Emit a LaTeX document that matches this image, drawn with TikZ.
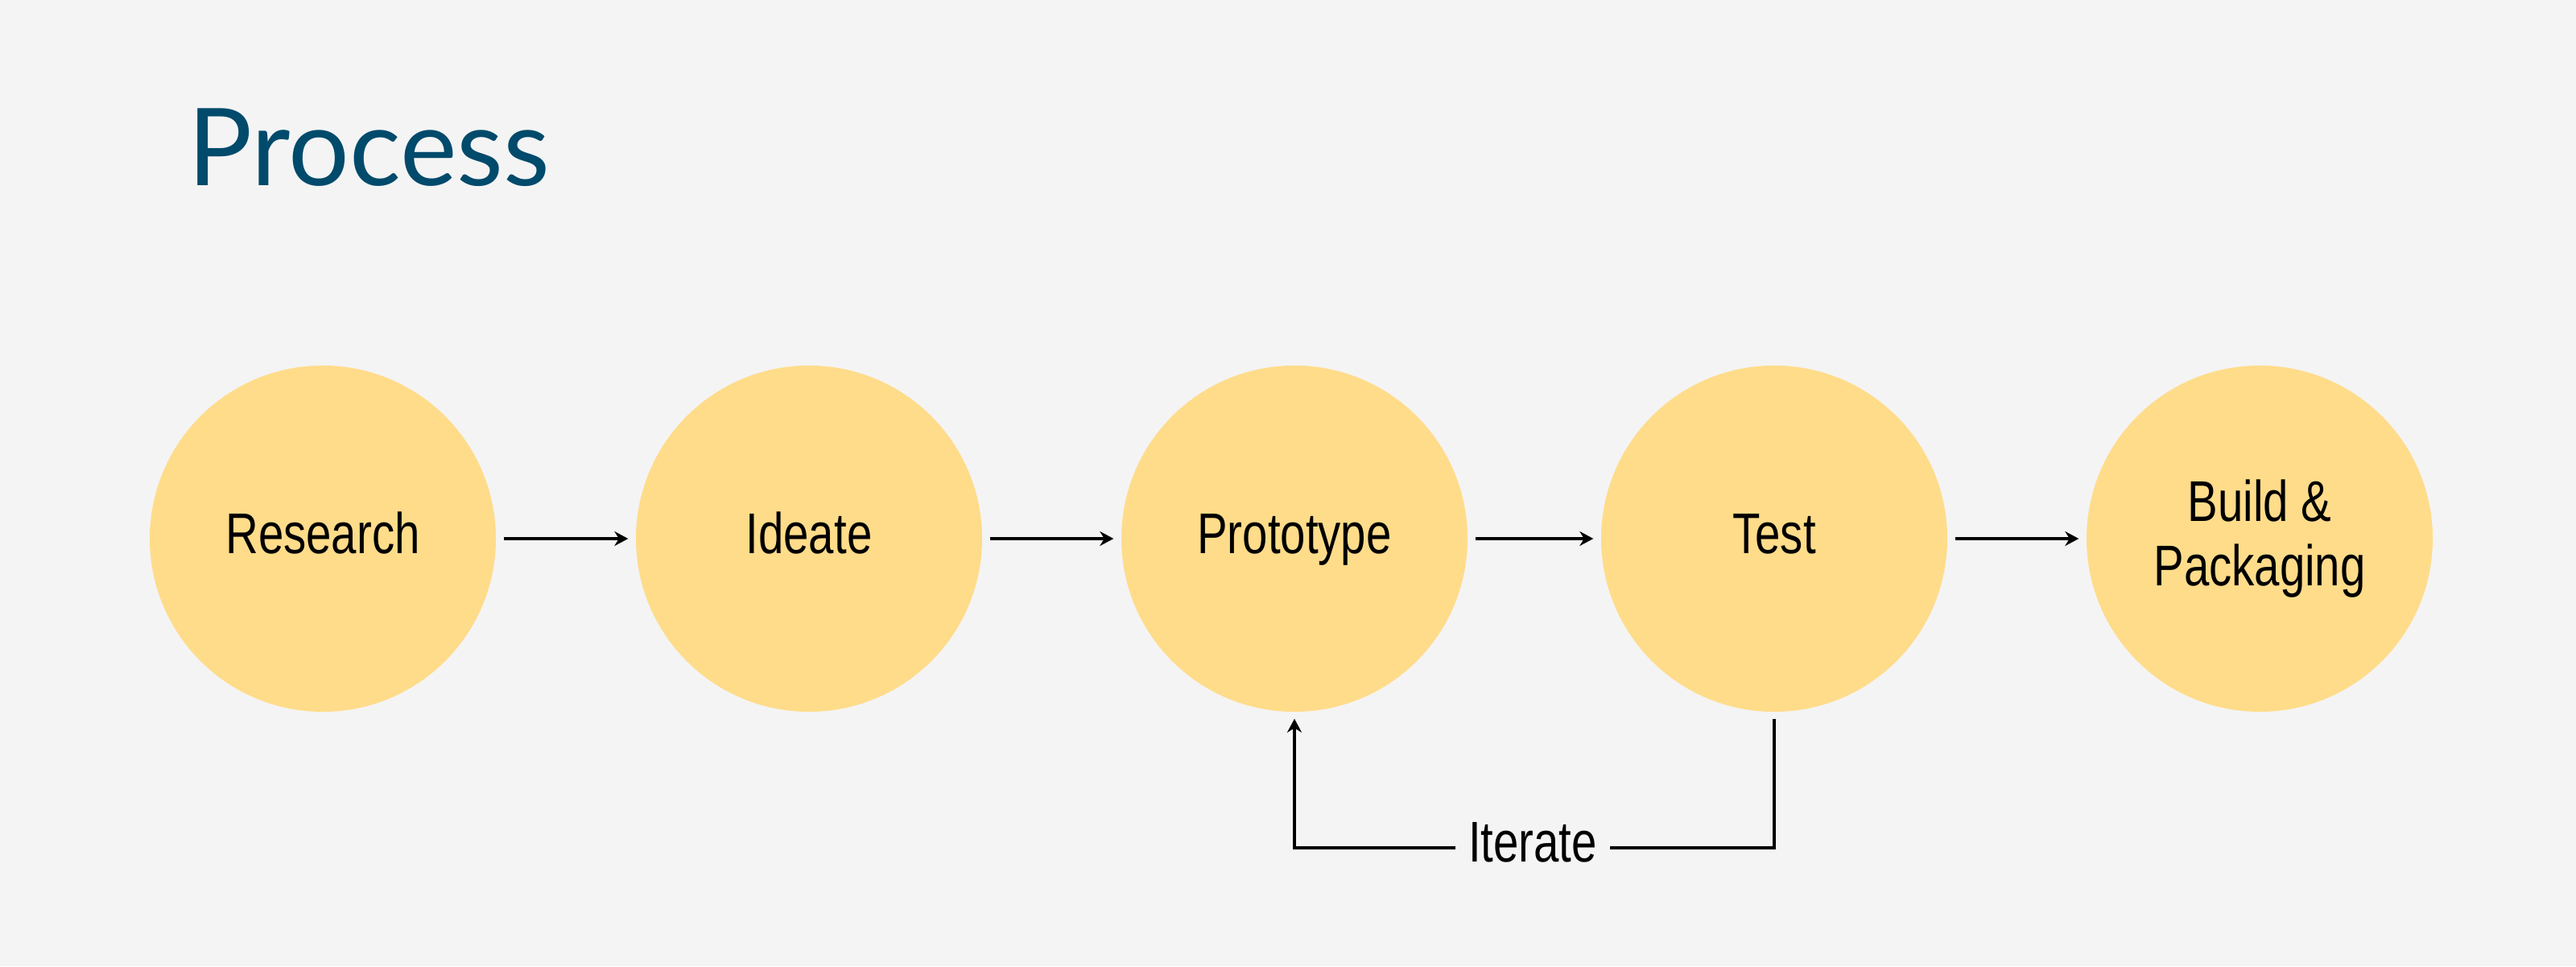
\documentclass[tikz,border=0pt]{standalone}
\usepackage{fontspec}
\setmainfont[FakeStretch=0.79]{Liberation Sans}
\newfontfamily\titlefont{Lato}
\usetikzlibrary{arrows.meta}

\definecolor{pagegrey}{RGB}{244,244,244}
\definecolor{stagefill}{RGB}{255,220,138}
\definecolor{titleblue}{RGB}{0,74,107}

\begin{document}
\begin{tikzpicture}[
  stage/.style={circle, fill=stagefill, minimum size=4.3cm, inner sep=0pt,
    align=center, font=\fontsize{20.3}{22.8}\selectfont},
  oneline/.style={text height=0.5cm, text depth=0.12cm},
  flow/.style={line width=1.15pt, -{Stealth[length=0.17cm, width=0.18cm]}},
  loop/.style={line width=1.15pt}
]

\fill[pagegrey] (0,0) rectangle (32,12);
\useasboundingbox (0,0) rectangle (32,12);

\node[anchor=base west, inner sep=0pt, text=titleblue,
  font=\titlefont\fontsize{38}{40}\selectfont] (title) at (2.33,9.69) {Process};

\node[stage, oneline] (research) at (4.01,5.31)  {Research};
\node[stage, oneline] (ideate)   at (10.05,5.31) {Ideate};
\node[stage, oneline] (proto)    at (16.08,5.31) {Prototype};
\node[stage, oneline] (test)     at (22.04,5.31) {Test};
\node[stage]          (build)    at (28.07,5.31) {Build \&\\Packaging};

\draw[flow, shorten <=0.09cm, shorten >=0.09cm] (research) -- (ideate);
\draw[flow, shorten <=0.09cm, shorten >=0.09cm] (ideate)   -- (proto);
\draw[flow, shorten <=0.09cm, shorten >=0.09cm] (proto)    -- (test);
\draw[flow, shorten <=0.09cm, shorten >=0.09cm] (test)     -- (build);

% feedback loop
\node[font=\fontsize{20.3}{22.8}\selectfont, text height=0.5cm, text depth=0.16cm,
  inner xsep=0.15cm, inner ysep=0pt] (iter) at (19.04,1.47) {Iterate};
\draw[loop] ([yshift=-0.08cm]test.south) |- (iter.east);
\draw[flow] (iter.west) -| ([yshift=-0.08cm]proto.south);

\end{tikzpicture}
\end{document}
